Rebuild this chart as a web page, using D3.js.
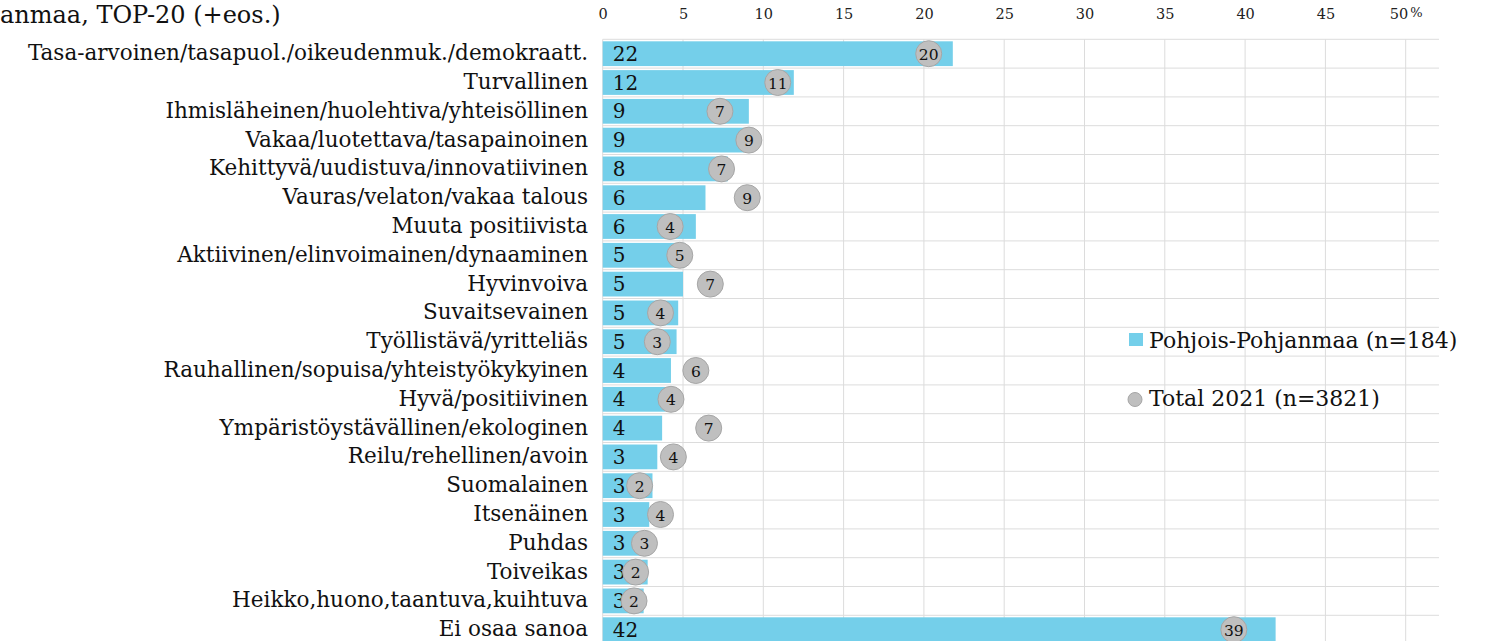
<!DOCTYPE html>
<html><head><meta charset="utf-8">
<script src="https://cdn.jsdelivr.net/npm/d3@7"></script>
<style>
html,body{margin:0;padding:0;background:#fff;}
svg{display:block;font-family:"DejaVu Serif",serif;}
</style></head>
<body><svg id="chart" width="1485" height="641"></svg>
<script>
const categories = [
  "Tasa-arvoinen/tasapuol./oikeudenmuk./demokraatt.",
  "Turvallinen",
  "Ihmisläheinen/huolehtiva/yhteisöllinen",
  "Vakaa/luotettava/tasapainoinen",
  "Kehittyvä/uudistuva/innovatiivinen",
  "Vauras/velaton/vakaa talous",
  "Muuta positiivista",
  "Aktiivinen/elinvoimainen/dynaaminen",
  "Hyvinvoiva",
  "Suvaitsevainen",
  "Työllistävä/yritteliäs",
  "Rauhallinen/sopuisa/yhteistyökykyinen",
  "Hyvä/positiivinen",
  "Ympäristöystävällinen/ekologinen",
  "Reilu/rehellinen/avoin",
  "Suomalainen",
  "Itsenäinen",
  "Puhdas",
  "Toiveikas",
  "Heikko,huono,taantuva,kuihtuva",
  "Ei osaa sanoa"
];
const regionValues = [21.8, 11.9, 9.1, 8.8, 7.8, 6.4, 5.8, 5.1, 5.0, 4.7, 4.6, 4.25, 3.9, 3.7, 3.4, 3.1, 2.9, 2.8, 2.8, 2.55, 41.9];
const totalValues  = [20.3, 10.9, 7.3, 9.1, 7.4, 9.0, 4.2, 4.8, 6.7, 3.6, 3.4, 5.8, 4.25, 6.6, 4.4, 2.3, 3.6, 2.6, 2.05, 1.95, 39.3];
const xTicks = [0, 5, 10, 15, 20, 25, 30, 35, 40, 45, 50];
const seriesNames = ["Pohjois-Pohjanmaa (n=184)", "Total 2021 (n=3821)"];
const titleText = "anmaa, TOP-20 (+eos.)";

const barColor = "#74cfea", dotFill = "#bfbfbf", dotStroke = "#a6a6a6", gridColor = "#dcdcdc";

const svg = d3.select("#chart");
const x = d3.scaleLinear().domain([0, 50]).range([602.7, 1405.7]);
const plotRight = 1439;
const y = d3.scaleBand().domain(categories).range([39.3, 39.3 + 21 * 28.8]).paddingInner(0.14).paddingOuter(0.07);
const rowStep = y.step();
const rowTop = 39.3;

// title
svg.append("text").attr("x", 0).attr("y", 23).attr("font-size", 24).attr("fill", "#111").text(titleText);

// grid: vertical
svg.append("g").selectAll("line").data(xTicks).join("line")
  .attr("x1", d => x(d)).attr("x2", d => x(d))
  .attr("y1", rowTop).attr("y2", 641)
  .attr("stroke", gridColor).attr("stroke-width", 1);
// grid: horizontal row boundaries
const rowLines = d3.range(categories.length + 1);
svg.append("g").selectAll("line").data(rowLines).join("line")
  .attr("x1", x(0)).attr("x2", plotRight)
  .attr("y1", d => rowTop + d * rowStep).attr("y2", d => rowTop + d * rowStep)
  .attr("stroke", gridColor).attr("stroke-width", 1);

// top axis
const axis = d3.axisTop(x).tickValues(xTicks).tickSize(0).tickPadding(0)
  .tickFormat(d => d);
const ax = svg.append("g").attr("transform", "translate(0,19)").call(axis);
ax.select(".domain").remove();
ax.selectAll("text").attr("font-size", 14.5).attr("font-family", "DejaVu Serif, serif").attr("fill", "#222");
const lastTick = ax.selectAll(".tick text").filter(d => d === 50);
lastTick.text(null);
lastTick.append("tspan").text("50");
lastTick.append("tspan").attr("dx", 2).attr("dy", -2).attr("font-size", 13).text("%");

// category labels
svg.append("g").selectAll("text").data(categories).join("text")
  .attr("x", 588).attr("y", d => y(d) + y.bandwidth() / 2 + 6.5)
  .attr("text-anchor", "end").attr("font-size", 21.5).attr("fill", "#111")
  .text(d => d);

// bars
svg.append("g").selectAll("rect").data(regionValues).join("rect")
  .attr("x", x(0)).attr("y", (d, i) => y(categories[i]))
  .attr("width", d => x(d) - x(0)).attr("height", y.bandwidth())
  .attr("fill", barColor);

// bar labels
svg.append("g").selectAll("text").data(regionValues).join("text")
  .attr("x", x(0) + 10).attr("y", (d, i) => y(categories[i]) + y.bandwidth() / 2 + 7)
  .attr("font-size", 20).attr("fill", "#111")
  .text(d => Math.round(d));

// dots
svg.append("g").selectAll("circle").data(totalValues).join("circle")
  .attr("cx", d => x(d)).attr("cy", (d, i) => y(categories[i]) + y.bandwidth() / 2)
  .attr("r", 13).attr("fill", dotFill).attr("stroke", dotStroke).attr("stroke-width", 1);
svg.append("g").selectAll("text").data(totalValues).join("text")
  .attr("x", d => x(d)).attr("y", (d, i) => y(categories[i]) + y.bandwidth() / 2 + 6)
  .attr("text-anchor", "middle").attr("font-size", 15.5).attr("fill", "#111")
  .text(d => Math.round(d));

// legend
const lg = svg.append("g");
lg.append("rect").attr("x", 1129).attr("y", 333).attr("width", 14).attr("height", 13).attr("fill", barColor);
lg.append("text").attr("x", 1149).attr("y", 348).attr("font-size", 22).attr("fill", "#111").text(seriesNames[0]);
lg.append("circle").attr("cx", 1135).attr("cy", 399.5).attr("r", 7).attr("fill", dotFill).attr("stroke", dotStroke);
lg.append("text").attr("x", 1149).attr("y", 406).attr("font-size", 22).attr("fill", "#111").text(seriesNames[1]);
</script></body></html>
